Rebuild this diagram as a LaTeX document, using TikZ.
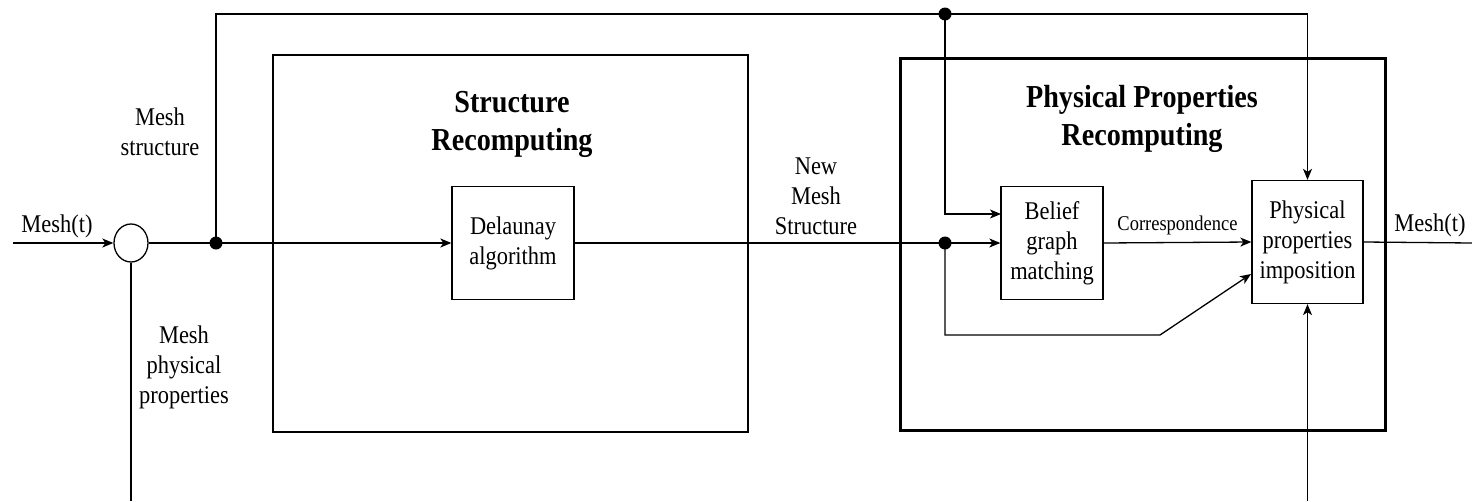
\documentclass[tikz,border=0pt]{standalone}
\usepackage{fontspec}
\setmainfont[FakeStretch=0.88]{Liberation Serif}
\usetikzlibrary{arrows.meta,shapes.geometric}
\begin{document}
\begin{tikzpicture}[x=1pt,y=-1pt,
  line width=1.3pt,
  >={Stealth[length=11pt,width=9pt,inset=3pt]},
  txt/.style={font=\fontsize{25.5}{30}\selectfont,align=center,inner sep=0pt},
  ttl/.style={font=\fontsize{32}{38}\selectfont\bfseries,align=center,inner sep=0pt},
  small/.style={font=\fontsize{21}{24}\selectfont,inner sep=0pt},
  blk/.style={draw,line width=1.3pt,inner sep=0pt,align=center,font=\fontsize{25.5}{30}\selectfont},
  dotn/.style={circle,fill=black,draw=none,minimum size=13pt,inner sep=0pt}]
\useasboundingbox (0,0) rectangle (1472,501);
% big boxes
\node[blk,minimum width=475pt,minimum height=377pt] (sr) at (510.5,243.5) {};
\node[draw,line width=3pt,minimum width=485pt,minimum height=372pt,inner sep=0pt] (ppr) at (1142.5,244) {};
\node[ttl] (srt) at (512,124) {Structure\\Recomputing};
\node[ttl] (pprt) at (1142,119) {Physical Properties\\Recomputing};
% inner blocks
\node[blk,minimum width=122pt,minimum height=113pt] (del) at (513,243) {Delaunay\\algorithm};
\node[blk,minimum width=102pt,minimum height=113pt] (bel) at (1052,243) {Belief\\graph\\matching};
\node[blk,minimum width=111pt,minimum height=123pt] (phy) at (1307.5,242) {Physical\\properties\\imposition};
% summing junction
\node[draw,ellipse,line width=1.3pt,minimum width=34pt,minimum height=38pt,inner sep=0pt] (sum) at (131,243) {};
% dots
\node[dotn] (d1) at (216,243) {};
\node[dotn] (d2) at (945,14) {};
\node[dotn] (d3) at (945,243) {};
% coordinates
\coordinate (inL) at (13,243);
\coordinate (topL) at (216,14);
\coordinate (topR) at (1307.5,14);
\coordinate (b1) at (1001,214);
\coordinate (c1) at (945,335);
\coordinate (c2) at (1160,335);
\coordinate (p1) at (1251,274);
\coordinate (out) at (1472,243);
\coordinate (botL) at (131,501);
\coordinate (botR) at (1307.5,501);
% labels
\node[txt] (lin) at (57,226) {Mesh(t)};
\node[txt] (lms) at (160,132) {Mesh\\structure};
\node[txt] (lmp) at (184,367) {Mesh\\physical\\properties};
\node[txt] (lnm) at (816,196) {New\\Mesh\\Structure};
\node[txt] (lout) at (1430,225) {Mesh(t)};
% connectors
\draw[->] (inL) -- (sum.west);
\draw (sum.south) -- (botL);
\draw[->] (sum.east) -- (d1.center) -- (del.west);
\draw[->] (d1.center) -- (topL) -- (topR) -- (phy.north);
\draw[->] (d2.center) |- (b1);
\draw[->] (del.east) -- (d3.center) -- (bel.west);
\draw[->] (d3.center) -- (c1) -- (c2) -- (p1);
\draw[->] (bel.east) -- node[small,above=7pt] (lcor) {Correspondence} (phy.west);
\draw (phy.east) -- (out);
\draw[->] (botR) -- (phy.south);
\end{tikzpicture}
\end{document}
